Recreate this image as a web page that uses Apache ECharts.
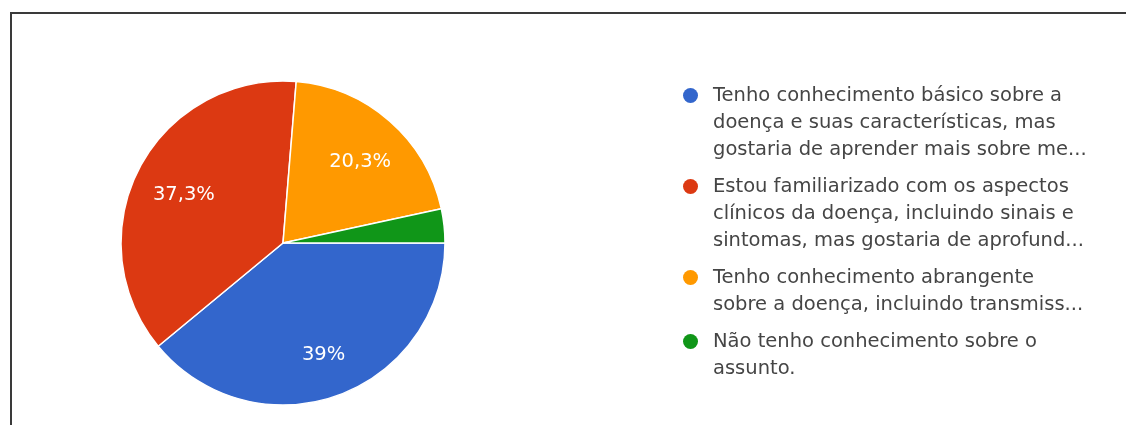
<!DOCTYPE html>
<html>
<head>
<meta charset="utf-8">
<script src="https://cdn.jsdelivr.net/npm/echarts@6/dist/echarts.min.js"></script>
<style>
  html, body { margin: 0; padding: 0; background: #fff; }
  #wrap { position: relative; width: 1126px; height: 425px; overflow: hidden; }
  #frame { position: absolute; left: 10px; top: 12px; width: 1200px; height: 500px;
           border-left: 2px solid #3a3a3a; border-top: 2px solid #3a3a3a; }
  #chart { position: absolute; left: 0; top: 0; width: 1126px; height: 425px; }
</style>
</head>
<body>
<div id="wrap">
  <div id="frame"></div>
  <div id="chart"></div>
</div>
<script>
const categories = [
  'Tenho conhecimento básico sobre a\ndoença e suas características, mas\ngostaria de aprender mais sobre me...',
  'Estou familiarizado com os aspectos\nclínicos da doença, incluindo sinais e\nsintomas, mas gostaria de aprofund...',
  'Tenho conhecimento abrangente\nsobre a doença, incluindo transmiss...',
  'Não tenho conhecimento sobre o\nassunto.'
];
const values = [39, 37.3, 20.3, 3.4];
const labels = ['39%', '37,3%', '20,3%', ''];
const colors = ['#3366cc', '#dc3912', '#ff9900', '#109618'];

const FONT = '"DejaVu Sans", "Liberation Sans", Arial, sans-serif';
const chart = echarts.init(document.getElementById('chart'), null, { renderer: 'canvas' });

const rich = {};
colors.forEach((c, i) => {
  rich['dot' + i] = { width: 15, height: 15, borderRadius: 7.5, backgroundColor: c };
});
rich.sp = { width: 15, height: 15 };
rich.t = { fontSize: 19.5, fontFamily: FONT, color: '#454545', lineHeight: 27, padding: [0, 0, 0, 15] };

const pieData = categories.map((n, i) => ({ name: n, value: values[i], itemStyle: { color: colors[i] } }));

chart.setOption({
  animation: false,
  legend: {
    orient: 'vertical',
    left: 673,
    top: 77,
    icon: 'none',
    itemWidth: 0,
    itemHeight: 15,
    itemGap: 10,
    selectedMode: false,
    data: categories,
    formatter: function (name) {
      const idx = categories.indexOf(name);
      return name.split('\n').map((line, j) =>
        (j === 0 ? '{dot' + idx + '| }' : '{sp| }') + '{t|' + line + '}'
      ).join('\n');
    },
    textStyle: { rich: rich, lineHeight: 27 }
  },
  series: [
    {
      type: 'pie',
      center: [283, 243],
      radius: 162,
      startAngle: 0,
      clockwise: true,
      avoidLabelOverlap: false,
      silent: true,
      itemStyle: { borderColor: '#fff', borderWidth: 1.5 },
      label: { show: false },
      labelLine: { show: false },
      data: pieData
    },
    {
      type: 'pie',
      center: [283, 243],
      radius: 222,
      startAngle: 0,
      clockwise: true,
      avoidLabelOverlap: false,
      silent: true,
      z: 5,
      itemStyle: { color: 'rgba(0,0,0,0)', borderWidth: 0 },
      label: {
        show: true,
        position: 'inside',
        color: '#fff',
        fontSize: 19.5,
        fontFamily: FONT,
        offset: [2, 5],
        formatter: function (p) { return labels[p.dataIndex]; }
      },
      labelLine: { show: false },
      emphasis: { disabled: true },
      data: categories.map((n, i) => ({ name: n, value: values[i] }))
    }
  ]
});
</script>
</body>
</html>
